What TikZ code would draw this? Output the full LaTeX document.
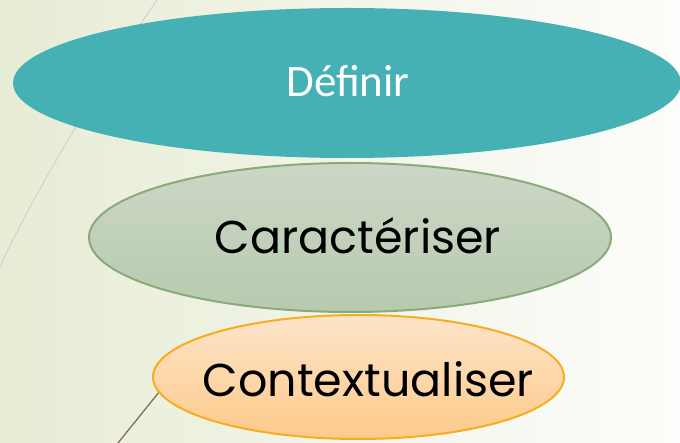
\documentclass[tikz,border=0pt]{standalone}
\usepackage{fontspec}
\newfontfamily\titlefont{Carlito}
\newfontfamily\gothfont{Poppins}
\usetikzlibrary{shapes.geometric}
\definecolor{tealfill}{HTML}{46B1B5}
\definecolor{sagetop}{HTML}{CCD7C7}
\definecolor{sagebot}{HTML}{B7CAAE}
\definecolor{sageline}{HTML}{8BAA7A}
\definecolor{peachtop}{HTML}{FDE4C9}
\definecolor{peachbot}{HTML}{FDCA8A}
\definecolor{peachline}{HTML}{F7AD22}
\definecolor{bgleft}{HTML}{E7ECD5}
\definecolor{bgmid}{HTML}{F1F4E8}
\definecolor{bgright}{HTML}{FDFDFB}
\tikzset{
	bubble/.style={ellipse,inner sep=0pt,outer sep=0pt},
	goth/.style={font=\gothfont\fontsize{46}{52}\selectfont,inner sep=0pt},
}
\begin{document}
\begin{tikzpicture}[x=1pt,y=-1pt]
			\useasboundingbox (0,0) rectangle (680,443);
			% background
			\shade[left color=bgleft,middle color=bgmid,right color=bgright] (0,0) rectangle (680,443);
			% thin lines of the slide
			\draw[color=black!18,line width=1pt] (157,0) .. controls (103,78) and (30,200) .. (0,267);
			\draw[color=black!60!brown!70,line width=1.3pt] (172,376)--(118,443);
			% the three bubbles
			\node[bubble,fill=tealfill,minimum width=668pt,minimum height=150pt] (definir) at (347,83) {};
			\node[text=white,font=\titlefont\fontsize{45}{50}\selectfont,inner sep=0pt] (definirtxt) at (348,81) {Définir};
			\node[bubble,draw=sageline,line width=2pt,top color=sagetop,bottom color=sagebot,
				minimum width=522pt,minimum height=149pt] (caract) at (350,237.5) {};
			\node[goth] (caracttxt) at ([xshift=8pt,yshift=2pt]caract.center) {Caractériser};
			\node[bubble,draw=peachline,line width=2pt,top color=peachtop,bottom color=peachbot,
				minimum width=411pt,minimum height=124pt] (context) at (358.5,377) {};
			\node[goth] (contexttxt) at ([xshift=10pt,yshift=-2pt]context.center) {Contextualiser};
		\end{tikzpicture}
\end{document}
